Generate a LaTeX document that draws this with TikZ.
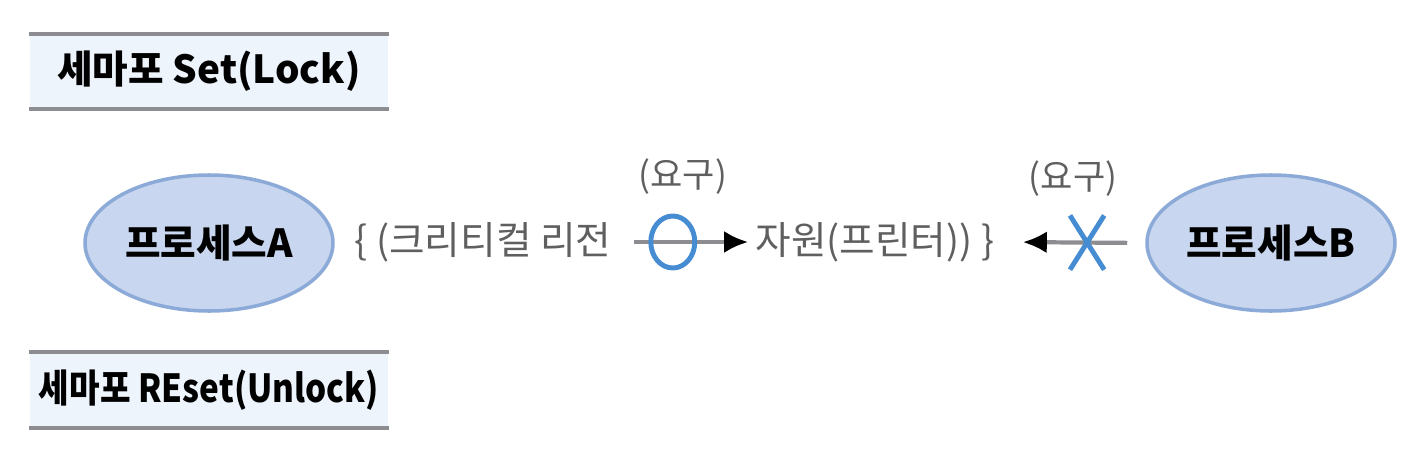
\documentclass[tikz,border=0pt]{standalone}
\usepackage{fontspec}
\setmainfont{Noto Sans CJK KR}
\newfontfamily\condfont[FakeStretch=0.86]{Noto Sans CJK KR}
\usepackage{tikz}
\usetikzlibrary{arrows.meta, positioning, shapes.geometric}
\usepackage{xcolor}
\definecolor{semfill}{RGB}{238,244,252}
\definecolor{semline}{RGB}{140,140,145}
\definecolor{procfill}{RGB}{200,214,240}
\definecolor{procdraw}{RGB}{140,170,215}
\definecolor{markblue}{RGB}{70,140,210}
\definecolor{txtgray}{RGB}{95,95,95}
\tikzset{
    % Semaphore boxes
    sembox/.style={rectangle, fill=semfill, minimum width=3.58cm, minimum height=0.74cm,
                inner xsep=0pt, align=center, font=\fontsize{11}{13}\selectfont\bfseries},
    semrule/.style={semline, line width=1.2pt},
    % Processes
    procnode/.style={ellipse, draw=procdraw, fill=procfill, line width=1pt, inner sep=0pt,
                minimum width=2.48cm, minimum height=1.36cm, align=center,
                font=\fontsize{11}{13}\selectfont\bfseries},
    % Labels
    glbl/.style={font=\fontsize{11}{13}\selectfont, text=txtgray},
    reqlbl/.style={font=\fontsize{10}{12}\selectfont, text=txtgray},
    % Request arrows
    reqarrow/.style={-{Latex[length=2.4mm, width=2.2mm, color=black]}, semline, line width=1.2pt},
    okmark/.style={ellipse, draw=markblue, line width=1.4pt, minimum width=0.44cm,
                minimum height=0.52cm, inner sep=0pt},
    nomark/.style={rectangle, minimum width=0.3cm, minimum height=0.5cm, inner sep=0pt},
    xline/.style={markblue, line width=1.4pt},
}
\begin{document}
\begin{tikzpicture}
\useasboundingbox (0,0) rectangle (14.1,-4.5);

% Semaphore Set / Reset
\node[sembox] (set) at (2.09,-0.715) {세마포 Set(Lock)};
\draw[semrule] (set.north west) -- (set.north east);
\draw[semrule] (set.south west) -- (set.south east);

\node[sembox] (reset) at (2.09,-3.9) {\condfont 세마포 REset(Unlock)};
\draw[semrule] (reset.north west) -- (reset.north east);
\draw[semrule] (reset.south west) -- (reset.south east);

% Processes
\node[procnode] (procA) at (2.09,-2.43) {프로세스A};
\node[procnode] (procB) at (12.71,-2.43) {프로세스B};

% Critical region
\node[glbl] (crit) at (4.83,-2.42) {\{ (크리티컬 리전};
\node[glbl] (res) at (8.75,-2.42) {자원(프린터)) \}};

% Requests
\draw[reqarrow, shorten <=0.1cm, shorten >=-0.05cm] (crit.east) -- node[okmark, pos=0.41] (ok) {} (res.west);
\node[reqlbl, above=0.07cm of ok, xshift=0.1cm] {(요구)};

\draw[reqarrow, shorten <=0.18cm, shorten >=0.16cm] (procB.west) -- node[nomark, pos=0.42] (deny) {} (res.east);
\draw[xline] (deny.north west) -- (deny.south east);
\draw[xline] (deny.north east) -- (deny.south west);
\node[reqlbl, above=0.07cm of deny, xshift=-0.14cm] {(요구)};

\end{tikzpicture}
\end{document}
